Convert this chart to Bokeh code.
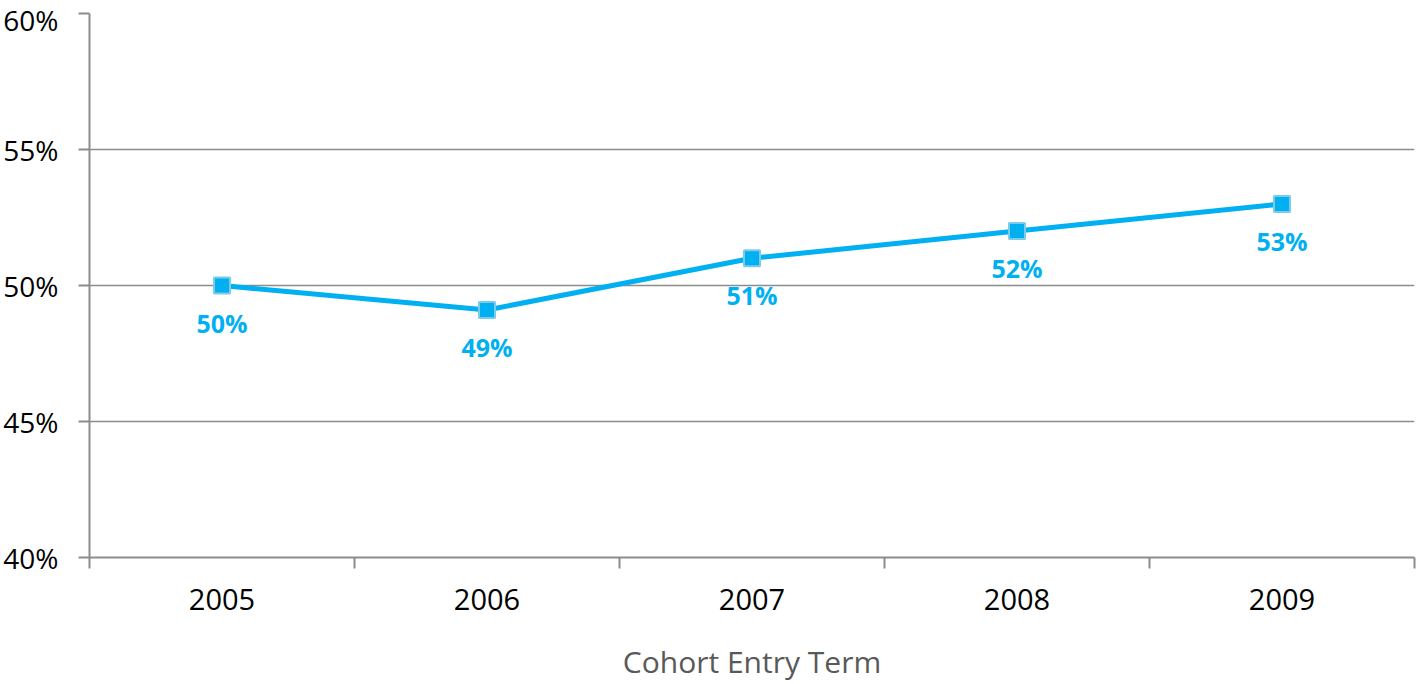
from bokeh.plotting import figure
from bokeh.models import Range1d, FixedTicker
from bokeh.embed import file_html
from bokeh.resources import INLINE
from bokeh.core.properties import value

# ---- data ----
years = ["2005", "2006", "2007", "2008", "2009"]
rates = [0.500, 0.491, 0.510, 0.520, 0.530]
rate_labels = ["50%", "49%", "51%", "52%", "53%"]
y_ticks = [0.40, 0.45, 0.50, 0.55, 0.60]
y_tick_labels = ["40%", "45%", "50%", "55%", "60%"]
x_title = "Cohort Entry Term"

BLUE = "#00B0F0"
GRID = "#8C8C8C"
FONT = "Open Sans"

n = len(years)
xs = [i + 0.5 for i in range(n)]          # category centres
bounds = [float(i) for i in range(n + 1)]  # category boundaries

p = figure(width=1418, height=684,
           x_range=Range1d(0, n), y_range=Range1d(y_ticks[0], y_ticks[-1]),
           output_backend="svg", toolbar_location=None,
           min_border_left=89, min_border_top=13, min_border_right=4,
           min_border_bottom=126)
p.outline_line_color = None
p.background_fill_color = "white"
p.border_fill_color = "white"

# y axis
p.yaxis.ticker = FixedTicker(ticks=y_ticks)
p.yaxis.major_label_overrides = dict(zip(y_ticks, y_tick_labels))
p.yaxis.axis_line_color = GRID
p.yaxis.axis_line_width = 2
p.yaxis.major_tick_line_color = GRID
p.yaxis.major_tick_line_width = 2
p.yaxis.major_tick_out = 11
p.yaxis.major_tick_in = 0
p.yaxis.minor_tick_line_color = None
p.yaxis.major_label_standoff = 20
p.yaxis.major_label_text_font = FONT
p.yaxis.major_label_text_font_size = "28px"
p.yaxis.major_label_text_color = "#000000"

# x axis: labels at centres, tick marks at boundaries
p.xaxis.ticker = FixedTicker(ticks=xs, minor_ticks=bounds)
p.xaxis.major_label_overrides = dict(zip(xs, years))
p.xaxis.axis_line_color = GRID
p.xaxis.axis_line_width = 2
p.xaxis.major_tick_line_color = None
p.xaxis.major_tick_out = 0
p.xaxis.major_tick_in = 0
p.xaxis.minor_tick_line_color = GRID
p.xaxis.minor_tick_line_width = 2
p.xaxis.minor_tick_out = 11
p.xaxis.minor_tick_in = 0
p.xaxis.major_label_standoff = 20
p.xaxis.major_label_text_font = FONT
p.xaxis.major_label_text_font_size = "29px"
p.xaxis.major_label_text_color = "#000000"
p.xaxis.axis_label = x_title
p.xaxis.axis_label_text_font = FONT
p.xaxis.axis_label_text_font_style = "normal"
p.xaxis.axis_label_text_font_size = "30px"
p.xaxis.axis_label_text_color = "#595959"
p.xaxis.axis_label_standoff = 28

# grid
p.xgrid.grid_line_color = None
p.ygrid.ticker = FixedTicker(ticks=y_ticks)
p.ygrid.grid_line_color = GRID
p.ygrid.grid_line_width = 1.5

# series
p.line(xs, rates, line_width=5, line_color=BLUE)
p.scatter(xs, rates, marker="square", size=16, fill_color=BLUE,
          line_color="#7CCBEA", line_width=2)
p.text(xs, rates, text=rate_labels, text_align="center", text_baseline="middle",
       y_offset=37, text_font=value(FONT), text_font_style="bold",
       text_font_size="25px", text_color=BLUE)

open("out.html", "w").write(file_html(p, INLINE))
